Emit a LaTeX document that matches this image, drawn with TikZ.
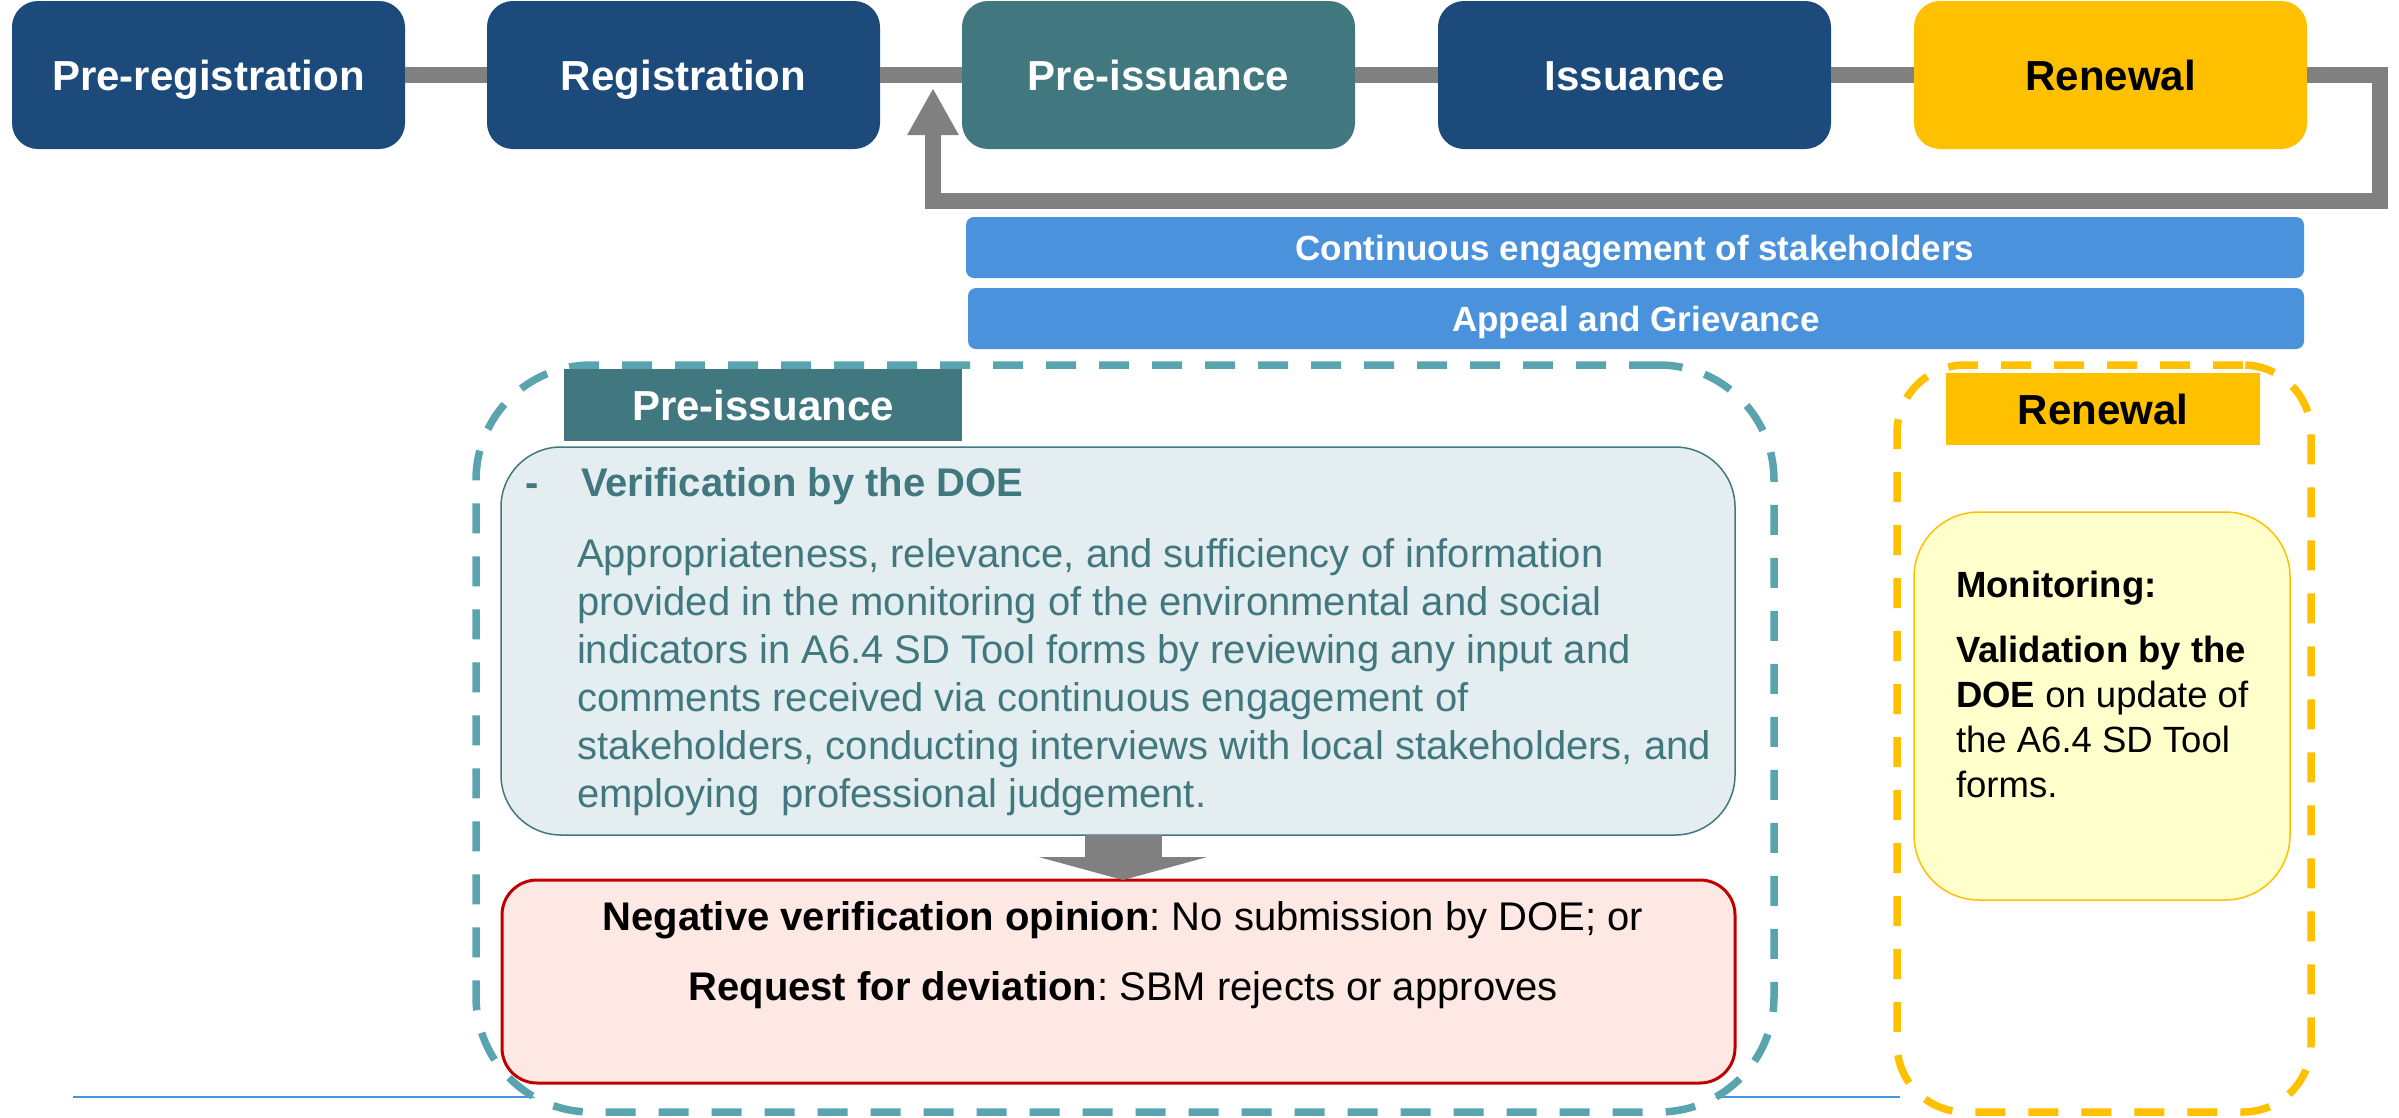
\documentclass[tikz,border=0pt]{standalone}
\usepackage{fontspec}
\setmainfont{Liberation Sans}
\usetikzlibrary{arrows.meta}
\definecolor{navy}{HTML}{1B4A7B}
\definecolor{tealdark}{HTML}{41787F}
\definecolor{amber}{HTML}{FFC000}
\definecolor{conngray}{HTML}{808080}
\definecolor{barblue}{HTML}{4A93DC}
\definecolor{dashteal}{HTML}{5AA4AF}
\definecolor{greenfill}{HTML}{E4EEF0}
\definecolor{redfill}{HTML}{FDE8E4}
\definecolor{redline}{HTML}{C00000}
\definecolor{yelfill}{HTML}{FFFFCC}
\frenchspacing
\begin{document}
\begin{tikzpicture}[x=1pt,y=-1pt,
  every node/.style={inner sep=0pt,outer sep=0pt},
  topbox/.style={rectangle,rounded corners=26pt,minimum width=393pt,minimum height=148pt,
    font=\fontsize{42}{50}\selectfont\bfseries,text=white,text height=30pt,text depth=0pt},
  conn/.style={draw=conngray,line width=16pt,line join=miter},
  barbox/.style={rectangle,rounded corners=8pt,fill=barblue,minimum height=61pt,
    font=\fontsize{35}{42}\selectfont\bfseries,text=white,text height=25pt,text depth=0pt},
  container/.style={rectangle,fill=white,line width=7.5pt,dash pattern=on 30pt off 23pt},
  label/.style={rectangle,minimum height=72pt,font=\fontsize{42}{48}\selectfont\bfseries,
    text height=30pt,text depth=0pt},
  bodytxt/.style={anchor=base west,align=left,font=\fontsize{40}{48}\selectfont\frenchspacing},
]
\useasboundingbox (0,0) rectangle (2399,1117);

% bottom thin blue line (behind containers)
\draw[barblue,line width=2.5pt] (73,1097) -- (1900,1097);

% top row
\node[topbox,fill=navy]     (prereg) at (208.5,75)  {Pre-registration};
\node[topbox,fill=navy]     (reg)    at (683.5,75)  {Registration};
\node[topbox,fill=tealdark] (preiss) at (1158.5,75) {Pre-issuance};
\node[topbox,fill=navy]     (iss)    at (1634.5,75) {Issuance};
\node[topbox,fill=amber,text=black] (ren) at (2110.5,75) {Renewal};

\draw[conn] (prereg) -- (reg);
\draw[conn] (reg) -- (preiss);
\draw[conn] (preiss) -- (iss);
\draw[conn] (iss) -- (ren);

\coordinate (loopcorner) at (2380,201);
\coordinate (looptip) at (933,88);
\draw[conn,-{Triangle[length=47pt,width=48pt]}] (ren.east) -| (loopcorner) -| (looptip);

% bars
\node[barbox,minimum width=1338pt] (ceng) at (1635,247.5) {Continuous engagement of stakeholders};
\node[barbox,minimum width=1336pt] (appeal) at (1636,318.5) {Appeal and Grievance};

% containers
\node[container,draw=dashteal,rounded corners=115pt,minimum width=1298pt,minimum height=747pt] (pcont) at (1125,738.5) {};
\node[container,draw=amber,rounded corners=68pt,minimum width=414pt,minimum height=747pt] (rcont) at (2104,738.5) {};

% labels
\node[label,fill=tealdark,text=white,minimum width=398pt] (plab) at (763,405) {Pre-issuance};
\node[label,fill=amber,text=black,minimum width=314pt] (rlab) at (2103,409) {Renewal};

% verification box
\node[rectangle,rounded corners=60pt,fill=greenfill,draw=tealdark,line width=1.5pt,
  minimum width=1234pt,minimum height=388pt] (verif) at (1118,641) {};
\node[anchor=base west,text=tealdark,font=\fontsize{40}{48}\selectfont\bfseries] (vdash) at (525,496) {-};
\node[anchor=base west,text=tealdark,font=\fontsize{40}{48}\selectfont\bfseries] (vtitle) at (581,496) {Verification by the DOE};
\node[bodytxt,text=tealdark] (vbody) at (577,807) {Appropriateness, relevance, and sufficiency of information\\
provided in the monitoring of the environmental and social\\
indicators in A6.4 SD Tool forms by reviewing any input and\\
comments received via continuous engagement of\\
stakeholders, conducting interviews with local stakeholders, and\\
employing\ \ professional judgement.};

% negative box
\node[rectangle,rounded corners=35pt,fill=redfill,draw=redline,line width=3pt,
  minimum width=1233pt,minimum height=203pt] (neg) at (1118.5,981.5) {};
\node[anchor=base,font=\fontsize{40}{46}\selectfont\frenchspacing] (neg1) at (1123,930) {\textbf{Negative verification opinion}: No submission by DOE; or};
\node[anchor=base,font=\fontsize{40}{46}\selectfont\frenchspacing] (neg2) at (1123,1000) {\textbf{Request for deviation}: SBM rejects or approves};

% down arrow
\coordinate (dtop) at (1123,835);
\coordinate (dbot) at (1123,880);
\draw[draw=conngray,line width=77pt,-{Triangle[length=23pt,width=168pt]}] (dtop) -- (dbot);

% renewal monitoring box
\node[rectangle,rounded corners=65pt,fill=yelfill,draw=amber,line width=1.5pt,
  minimum width=376pt,minimum height=388pt] (mon) at (2102,706) {};
\node[anchor=base west,font=\fontsize{36.5}{44}\selectfont\bfseries] (montitle) at (1956,597) {Monitoring:};
\node[bodytxt,font=\fontsize{36.5}{44.7}\selectfont\frenchspacing] (monbody) at (1956,797) {\textbf{Validation by the}\\
\textbf{DOE} on update of\\
the A6.4 SD Tool\\
forms.};
\end{tikzpicture}
\end{document}
